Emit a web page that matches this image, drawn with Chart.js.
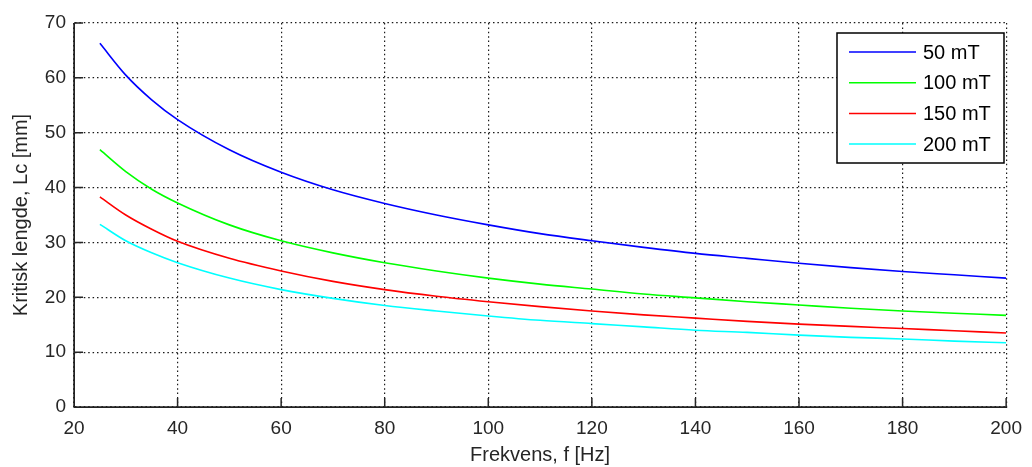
<!DOCTYPE html>
<html>
<head>
<meta charset="utf-8">
<script src="https://cdn.jsdelivr.net/npm/chart.js@4"></script>
<style>
  html, body { margin: 0; padding: 0; background: #fff; }
  #wrap { width: 1032px; height: 467px; position: relative; }
</style>
</head>
<body>
<div id="wrap"><canvas id="lcChart" width="1032" height="467"></canvas></div>
<script>
// frequency (Hz) and critical length (mm)
const freqs = [25, 30, 35, 40, 50, 60, 70, 80, 90, 100, 110, 120, 130, 140, 150, 160, 170, 180, 190, 200];
const lc50  = [66.3, 60.5, 56.0, 52.4, 46.9, 42.8, 39.6, 37.1, 35.0, 33.2, 31.6, 30.3, 29.1, 28.0, 27.1, 26.2, 25.4, 24.7, 24.1, 23.5];
const lc100 = [46.9, 42.9, 39.7, 37.2, 33.2, 30.3, 28.1, 26.3, 24.8, 23.5, 22.4, 21.5, 20.6, 19.9, 19.2, 18.6, 18.0, 17.5, 17.1, 16.7];
const lc150 = [38.3, 35.0, 32.4, 30.2, 27.1, 24.8, 22.9, 21.4, 20.2, 19.2, 18.3, 17.5, 16.8, 16.2, 15.6, 15.1, 14.7, 14.3, 13.9, 13.5];
const lc200 = [33.3, 30.3, 28.1, 26.3, 23.5, 21.4, 19.8, 18.5, 17.5, 16.6, 15.8, 15.2, 14.6, 14.0, 13.6, 13.1, 12.7, 12.4, 12.0, 11.7];
const seriesLabels = ['50 mT', '100 mT', '150 mT', '200 mT'];
const seriesColors = ['#0000ff', '#00ff00', '#ff0000', '#00ffff'];
const xTicks = [20, 40, 60, 80, 100, 120, 140, 160, 180, 200];
const yTicks = [0, 10, 20, 30, 40, 50, 60, 70];

const FONT = 'Arial, "Liberation Sans", sans-serif';
const TEXT = '#262626';

function toPoints(ys) {
    return freqs.map((f, i) => ({ x: f, y: ys[i] }));
}

// MATLAB style: short tick marks pointing into the plot
const innerTicks = {
    id: 'innerTicks',
    afterDraw(chart) {
        const ctx = chart.ctx;
        const xs = chart.scales.x, ys = chart.scales.y;
        const len = 9;
        ctx.save();
        ctx.setLineDash([]);
        ctx.strokeStyle = TEXT;
        ctx.lineWidth = 1.5;
        ctx.beginPath();
        xTicks.forEach(v => {
            const px = xs.getPixelForValue(v);
            ctx.moveTo(px, ys.bottom);
            ctx.lineTo(px, ys.bottom - len);
        });
        yTicks.forEach(v => {
            const py = ys.getPixelForValue(v);
            ctx.moveTo(xs.left, py);
            ctx.lineTo(xs.left + len, py);
        });
        // solid axis lines on the left and bottom
        ctx.moveTo(xs.left, ys.top);
        ctx.lineTo(xs.left, ys.bottom);
        ctx.lineTo(xs.right, ys.bottom);
        ctx.stroke();
        ctx.restore();
    }
};

// boxed legend in the top right corner
const boxLegend = {
    id: 'boxLegend',
    afterDraw(chart) {
        const ctx = chart.ctx;
        const left = 837, top = 33, w = 167, h = 130;
        ctx.save();
        ctx.setLineDash([]);
        ctx.fillStyle = '#fff';
        ctx.fillRect(left, top, w, h);
        ctx.strokeStyle = '#000';
        ctx.lineWidth = 1.5;
        ctx.strokeRect(left, top, w, h);
        ctx.font = '20px ' + FONT;
        ctx.textBaseline = 'middle';
        chart.data.datasets.forEach((ds, i) => {
            const y = 52 + i * 30.7;
            ctx.strokeStyle = ds.borderColor;
            ctx.lineWidth = 1.5;
            ctx.beginPath();
            ctx.moveTo(849, y);
            ctx.lineTo(916, y);
            ctx.stroke();
            ctx.fillStyle = '#000';
            ctx.fillText(ds.label, 923, y + 1);
        });
        ctx.restore();
    }
};

const dotted = { display: true, color: '#1a1a1a', width: 1, dash: [1.5, 2.9] };

const ctx = document.getElementById('lcChart').getContext('2d');
new Chart(ctx, {
    type: 'line',
    data: {
        datasets: [lc50, lc100, lc150, lc200].map((ys, i) => ({
            label: seriesLabels[i],
            data: toPoints(ys),
            borderColor: seriesColors[i],
            backgroundColor: seriesColors[i],
            borderWidth: 1.6,
            pointRadius: 0,
            fill: false,
            cubicInterpolationMode: 'monotone'
        }))
    },
    options: {
        responsive: false,
        animation: false,
        layout: { padding: { top: 23, right: 19, left: 0, bottom: 0 } },
        plugins: {
            legend: { display: false },
            tooltip: { enabled: false }
        },
        scales: {
            x: {
                type: 'linear',
                min: 20,
                max: 200,
                afterBuildTicks: axis => { axis.ticks = xTicks.map(v => ({ value: v })); },
                afterFit: axis => { axis.height = 60; },
                grid: { color: '#1a1a1a', lineWidth: 1.2, drawTicks: false },
                border: dotted,
                ticks: {
                    padding: 10,
                    color: TEXT,
                    font: { family: FONT, size: 19 },
                    maxRotation: 0
                },
                title: {
                    display: true,
                    text: 'Frekvens, f [Hz]',
                    color: TEXT,
                    font: { family: FONT, size: 20 },
                    padding: { top: 0, bottom: 0 }
                }
            },
            y: {
                min: 0,
                max: 70,
                afterBuildTicks: axis => { axis.ticks = yTicks.map(v => ({ value: v })); },
                afterFit: axis => { axis.width = 74; },
                grid: { color: '#1a1a1a', lineWidth: 1.2, drawTicks: false },
                border: dotted,
                ticks: {
                    padding: 8,
                    color: TEXT,
                    font: { family: FONT, size: 19 }
                },
                title: {
                    display: true,
                    text: 'Kritisk lengde, Lc [mm]',
                    color: TEXT,
                    font: { family: FONT, size: 20 },
                    padding: { top: 9, bottom: 0 }
                }
            }
        }
    },
    plugins: [innerTicks, boxLegend]
});
</script>
</body>
</html>
